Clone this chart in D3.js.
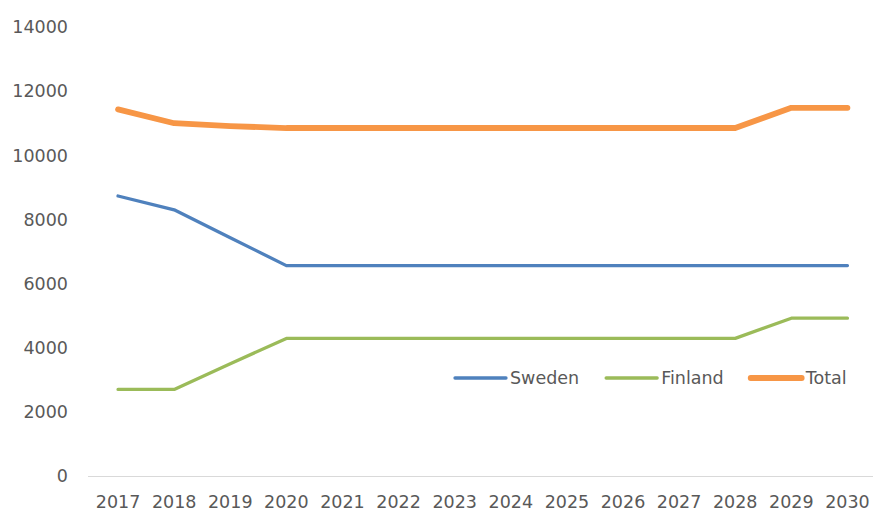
<!DOCTYPE html>
<html>
<head>
<meta charset="utf-8">
<script src="https://cdn.jsdelivr.net/npm/d3@7"></script>
<style>
  html, body { margin: 0; padding: 0; background: #fff; }
  svg { display: block; }
  text { font-family: "DejaVu Sans", sans-serif; font-size: 17.5px; fill: #595959; }
</style>
</head>
<body>
<svg id="chart" width="873" height="513"></svg>
<script>
// Data
const years = ["2017", "2018", "2019", "2020", "2021", "2022", "2023", "2024", "2025", "2026", "2027", "2028", "2029", "2030"];
const sweden = [8730, 8300, 7430, 6560, 6560, 6560, 6560, 6560, 6560, 6560, 6560, 6560, 6560, 6560];
const finland = [2700, 2700, 3500, 4290, 4290, 4290, 4290, 4290, 4290, 4290, 4290, 4290, 4920, 4920];
const total = [11430, 11000, 10910, 10850, 10850, 10850, 10850, 10850, 10850, 10850, 10850, 10850, 11480, 11480];
const yTicks = [0, 2000, 4000, 6000, 8000, 10000, 12000, 14000];

const series = [
    {name: "Sweden", values: sweden, color: "#4F81BD", width: 3.3},
    {name: "Finland", values: finland, color: "#9BBB59", width: 3.3},
    {name: "Total", values: total, color: "#F79646", width: 5.8},
];

const W = 873, H = 513;
const m = {top: 27, right: -2.5, bottom: 37, left: 90};

const svg = d3.select("#chart");

const x = d3.scaleBand().domain(years).range([m.left, W - m.right]).padding(0);
const y = d3.scaleLinear().domain([0, 14000]).range([H - m.bottom, m.top]);

// y axis labels (no gridlines in the reference)
svg.append("g")
    .selectAll("text")
    .data(yTicks)
    .join("text")
    .attr("x", 68)
    .attr("y", d => y(d))
    .attr("dy", "0.36em")
    .attr("text-anchor", "end")
    .text(d => d);

// x axis baseline
svg.append("line")
    .attr("x1", m.left - 2)
    .attr("x2", W)
    .attr("y1", y(0) + 0.5)
    .attr("y2", y(0) + 0.5)
    .attr("stroke", "#d9d9d9")
    .attr("stroke-width", 1);

// x axis labels
svg.append("g")
    .selectAll("text")
    .data(years)
    .join("text")
    .attr("x", d => x(d) + x.bandwidth() / 2)
    .attr("y", 508)
    .attr("text-anchor", "middle")
    .text(d => d);

const line = d3.line()
    .x((d, i) => x(years[i]) + x.bandwidth() / 2)
    .y(d => y(d));

svg.append("g")
    .selectAll("path")
    .data(series)
    .join("path")
    .attr("fill", "none")
    .attr("stroke", d => d.color)
    .attr("stroke-width", d => d.width)
    .attr("stroke-linecap", "round")
    .attr("stroke-linejoin", "round")
    .attr("d", d => line(d.values));

// legend, laid out from text widths
const legend = svg.append("g");
let lx = 455;
const ly = 378;
series.forEach(s => {
    legend.append("line")
        .attr("x1", lx).attr("x2", lx + 51)
        .attr("y1", ly).attr("y2", ly)
        .attr("stroke", s.color)
        .attr("stroke-width", s.width)
        .attr("stroke-linecap", "round");
    const t = legend.append("text")
        .attr("x", lx + 55)
        .attr("y", ly)
        .attr("dy", "0.36em")
        .text(s.name);
    lx += 55 + t.node().getComputedTextLength() + 27;
});
</script>
</body>
</html>
